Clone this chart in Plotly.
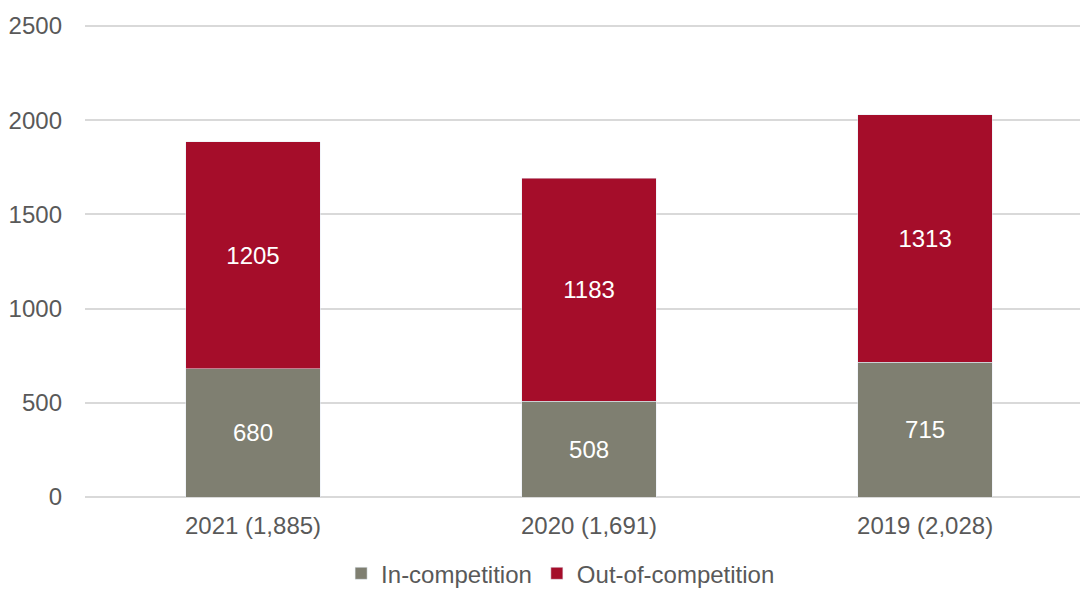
import plotly.graph_objects as go

years = ["2021 (1,885)", "2020 (1,691)", "2019 (2,028)"]
in_competition = [680, 508, 715]
out_of_competition = [1205, 1183, 1313]

font_family = "Liberation Sans, Arial, sans-serif"
text_color = "#595959"

fig = go.Figure()

fig.add_trace(
    go.Bar(
        name="In-competition",
        x=years,
        y=in_competition,
        marker_color="#7F7F71",
        text=in_competition,
        textposition="inside",
        insidetextanchor="middle",
        textfont=dict(color="white", size=24, family=font_family),
    )
)

fig.add_trace(
    go.Bar(
        name="Out-of-competition",
        x=years,
        y=out_of_competition,
        marker_color="#A50D2A",
        text=out_of_competition,
        textposition="inside",
        insidetextanchor="middle",
        textfont=dict(color="white", size=24, family=font_family),
    )
)

# top of range sits a little above 2500 so that gridline is drawn
fig.update_layout(
    barmode="stack",
    bargap=0.6,
    width=1080,
    height=589,
    margin=dict(l=85, r=0, t=24, b=92),
    plot_bgcolor="white",
    paper_bgcolor="white",
    font=dict(family=font_family, size=24, color=text_color),
    legend=dict(
        orientation="h",
        x=0.478,
        xanchor="center",
        xref="paper",
        yref="container",
        y=0.026,
        yanchor="middle",
        font=dict(size=24, color=text_color),
        itemwidth=30,
        traceorder="normal",
    ),
)

fig.update_yaxes(
    range=[0, 2510],
    dtick=500,
    showgrid=True,
    gridcolor="#D9D9D9",
    gridwidth=1.5,
    zeroline=True,
    zerolinecolor="#D9D9D9",
    zerolinewidth=1.5,
    ticks="",
    ticklabelstandoff=22,
    automargin=False,
    tickfont=dict(size=24, color=text_color),
)

# the source plot area runs past the right edge of the picture
fig.update_xaxes(
    range=[-0.5, 2.461],
    showgrid=False,
    ticks="",
    ticklabelstandoff=12,
    automargin=False,
    tickfont=dict(size=24, color=text_color),
)

# drop the default page margin so the figure sits at the window's origin
fig.write_html(
    "out.html",
    config={"displayModeBar": False},
    post_script="document.body.style.margin='0';document.body.style.overflow='hidden';",
)
